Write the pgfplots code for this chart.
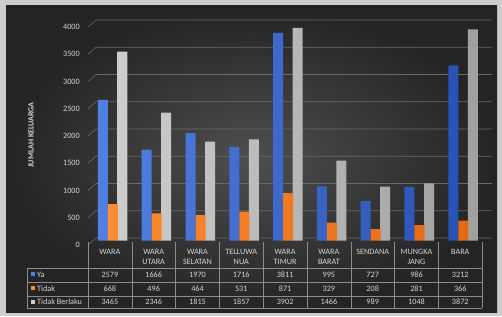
\documentclass[border=0pt]{standalone}
\usepackage{pgfplots}
\pgfplotsset{compat=1.18}
\usepackage{fontspec}
\setmainfont{Carlito}
\definecolor{frame}{RGB}{205,205,205}
\definecolor{bgin}{RGB}{78,78,78}
\definecolor{bgout}{RGB}{36,36,36}
\definecolor{txt}{RGB}{212,212,212}
\definecolor{gridc}{RGB}{105,105,105}
\definecolor{tabc}{RGB}{140,140,140}
\definecolor{bluel}{RGB}{82,128,226}
\definecolor{blued}{RGB}{40,82,180}
\definecolor{orl}{RGB}{250,140,50}
\definecolor{ord}{RGB}{228,105,20}
\definecolor{grl}{RGB}{205,205,205}
\definecolor{grd}{RGB}{160,160,160}
\newcommand{\tf}{\fontsize{8.2}{10}\selectfont}
\begin{document}
\begin{tikzpicture}
\useasboundingbox (0,0) rectangle (502pt,316pt);
\fill[frame] (0,0) rectangle (502pt,316pt);
\shade[inner color=bgin, outer color=bgout] (6pt,4pt) rectangle (497pt,310pt);
\begin{axis}[
  at={(88pt,75.5pt)}, anchor=south west,
  width=404pt, height=218pt, scale only axis,
  xmin=-0.5, xmax=8.724, ymin=0, ymax=4000,
  clip=false,
  axis line style={draw=none},
  xtick=\empty,
  ytick={0,500,...,4000},
  major tick length=0pt,
  /pgf/number format/.cd, 1000 sep={}, assume math mode=true,
  /pgfplots/.cd,
  yticklabel style={font=\tf, text=txt, xshift=-4.7pt, yshift=-4.5pt},
]
\pgfplotsinvokeforeach{0,500,1000,1500,2000,2500,3000,3500,4000}{
  \draw[gridc, line width=0.6pt] (axis cs:-0.5,{#1-83}) -- (axis cs:-0.317,{#1+46}) -- (axis cs:8.724,{#1+46});
}
\addplot[ybar, bar width=10pt, bar shift=-7pt, draw=none, left color=bluel, right color=blued]
  coordinates {(0,2579) (1,1666) (2,1970) (3,1716) (4,3811) (5,995) (6,727) (7,986) (8,3212)};
\addplot[ybar, bar width=10pt, bar shift=12.5pt, draw=none, left color=grl, right color=grd]
  coordinates {(0,3465) (1,2346) (2,1815) (3,1857) (4,3902) (5,1466) (6,989) (7,1048) (8,3872)};
\addplot[ybar, bar width=10pt, bar shift=3pt, draw=none, left color=orl, right color=ord]
  coordinates {(0,668) (1,496) (2,464) (3,531) (4,871) (5,329) (6,208) (7,281) (8,366)};
\end{axis}
% table lines
\foreach \y in {48,34,20,8} \draw[tabc, line width=0.6pt] (27pt,\y pt) -- (482pt,\y pt);
\draw[tabc, line width=0.6pt] (27pt,48pt) -- (27pt,8pt);
\foreach \i in {0,...,9} \draw[tabc, line width=0.6pt] ({88+43.8*\i)*1pt},74pt) -- ({(88+43.8*\i)*1pt},8pt);
% headers
\foreach \lab [count=\i from 0] in {WARA,{WARA\\UTARA},{WARA\\SELATAN},{TELLUWA\\NUA},{WARA\\TIMUR},{WARA\\BARAT},SENDANA,{MUNGKA\\JANG},BARA}
  \node[anchor=north, inner sep=0pt, align=center, font=\tf, text=txt] at ({(109.9+43.8*\i)*1pt},66.7pt) {\lab};
\foreach \v [count=\i from 0] in {2579,1666,1970,1716,3811,995,727,986,3212}
  \node[anchor=base, inner sep=0pt, font=\tf, text=txt] at ({(109.9+43.8*\i)*1pt},38.3pt) {\v};
\foreach \v [count=\i from 0] in {668,496,464,531,871,329,208,281,366}
  \node[anchor=base, inner sep=0pt, font=\tf, text=txt] at ({(109.9+43.8*\i)*1pt},25pt) {\v};
\foreach \v [count=\i from 0] in {3465,2346,1815,1857,3902,1466,989,1048,3872}
  \node[anchor=base, inner sep=0pt, font=\tf, text=txt] at ({(109.9+43.8*\i)*1pt},11.7pt) {\v};
% legend
\fill[bluel] (31pt,39.7pt) rectangle (35pt,43.7pt);
\fill[orl] (31pt,25.7pt) rectangle (35pt,29.7pt);
\fill[grl] (31pt,12.3pt) rectangle (35pt,16.3pt);
\node[anchor=base west, inner sep=0pt, font=\tf, text=txt] at (37pt,38.3pt) {Ya};
\node[anchor=base west, inner sep=0pt, font=\tf, text=txt] at (37pt,25pt) {Tidak};
\node[anchor=base west, inner sep=0pt, font=\tf, text=txt] at (37pt,11.7pt) {Tidak Berlaku};
% y title
\node[rotate=90, inner sep=0pt, font=\fontsize{8}{9}\selectfont\bfseries, text=txt] at (31pt,181pt) {JUMLAH KELUARGA};
\end{tikzpicture}
\end{document}
